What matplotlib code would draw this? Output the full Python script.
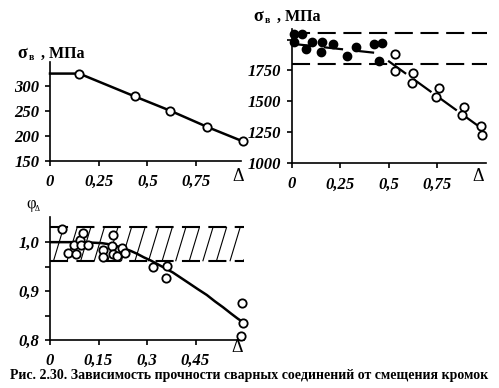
import numpy as np
import matplotlib
matplotlib.use("Agg")
import matplotlib.pyplot as plt

plt.rcParams['font.family'] = ['Liberation Serif', 'DejaVu Serif']
plt.rcParams['lines.scale_dashes'] = False

# panel 1: sigma_v vs offset
d1 = [0.15, 0.434, 0.617, 0.808, 0.99]
s1 = [326, 280, 251, 218, 189]
flat1 = 326

# panel 2: sigma_v vs offset (filled - no failure in seam, open - failure)
d2_full = [0.013, 0.055, 0.013, 0.074, 0.103, 0.155, 0.151, 0.211, 0.287, 0.331, 0.424, 0.464, 0.45]
s2_full = [2044, 2044, 1979, 1922, 1984, 1984, 1898, 1963, 1868, 1938, 1963, 1968, 1825]
d2_open = [0.532, 0.534, 0.624, 0.620, 0.761, 0.745, 0.888, 0.876, 0.976, 0.982]
s2_open = [1882, 1749, 1733, 1652, 1612, 1534, 1458, 1391, 1304, 1227]
fit2_upper_d = [0.005, 0.445]
fit2_upper_s = [1965, 1890]
fit2_lower_d = [0.497, 0.971]
fit2_lower_s = [1828, 1291]
band2 = [1800, 2050]

# panel 3: phi_delta vs offset
d3 = [0.038, 0.057, 0.080, 0.074, 0.093, 0.103, 0.096, 0.119, 0.165, 0.163, 0.194, 0.192,
      0.194, 0.208, 0.222, 0.232, 0.318, 0.358, 0.363, 0.593, 0.598, 0.590]
p3 = [1.027, 0.977, 0.976, 0.994, 1.005, 1.018, 0.994, 0.994, 0.984, 0.969, 1.015, 0.993,
      0.976, 0.972, 0.989, 0.977, 0.950, 0.927, 0.952, 0.876, 0.835, 0.808]
curve3_d = [0, 0.1, 0.16, 0.19, 0.21, 0.23, 0.25, 0.27, 0.29, 0.31, 0.33, 0.355, 0.38,
            0.405, 0.43, 0.457, 0.485, 0.51, 0.535, 0.56, 0.58, 0.6]
curve3_p = [1.0, 1.0, 0.998, 0.995, 0.991, 0.987, 0.982, 0.976, 0.969, 0.963, 0.956, 0.947, 0.938,
            0.927, 0.916, 0.904, 0.892, 0.879, 0.867, 0.854, 0.844, 0.835]
band3 = [0.962, 1.03]

W, H = 499, 388
fig = plt.figure(figsize=(W / 100, H / 100), dpi=100)


def box(left, top, right, bottom):
    return [left / W, 1 - bottom / H, (right - left) / W, (bottom - top) / H]


tickfont = dict(family='Liberation Serif', weight='bold', style='italic', size=12)


def style(ax):
    for s in ['top', 'right']:
        ax.spines[s].set_visible(False)
    for s in ['left', 'bottom']:
        ax.spines[s].set_linewidth(1.2)
    ax.tick_params(direction='out', length=3.5, width=1.2, pad=4)
    ax.tick_params(axis='x', pad=6)
    for lab in ax.get_xticklabels() + ax.get_yticklabels():
        lab.set_fontproperties(matplotlib.font_manager.FontProperties(**tickfont))


def ylabel(x, y, main, sub, rest=''):
    fig.text(x / W, 1 - y / H, main, fontsize=13, fontweight='bold', va='baseline', ha='left')
    fig.text((x + 12) / W, 1 - (y + 2) / H, sub, fontsize=7, fontweight='bold', va='baseline', ha='left')
    if rest:
        fig.text((x + 20) / W, 1 - y / H, rest, fontsize=11.5, fontweight='bold', va='baseline', ha='left')


openmk = dict(marker='o', ms=6, mfc='white', mec='black', mew=1.3, ls='none', clip_on=False, zorder=5)

# ---- panel 1
ax1 = fig.add_axes(box(50, 61.7, 241, 160.7))
ax1.plot([0, d1[0]] + d1, [flat1, flat1] + s1, color='black', lw=1.8, clip_on=False)
ax1.plot(d1, s1, **openmk)
ax1.set_xlim(0, 0.98)
ax1.set_ylim(150, 350)
ax1.set_xticks([0, 0.25, 0.5, 0.75])
ax1.set_xticklabels(['0', '0,25', '0,5', '0,75'])
ax1.set_yticks([150, 200, 250, 300])
style(ax1)
ylabel(17, 58, 'σ', 'в', ' , МПа')
fig.text(238 / W, 1 - 177 / H, 'Δ', fontsize=13, ha='center', va='center')

# ---- panel 2
ax2 = fig.add_axes(box(291.7, 29, 485.7, 163.3))
for b in band2:
    ax2.plot([0, 1.005], [b, b], color='black', lw=1.5, dashes=(13, 5.5), clip_on=False)
ax2.plot(fit2_upper_d, fit2_upper_s, color='black', lw=1.6, dashes=(14, 8.5))
ax2.plot(fit2_lower_d, fit2_lower_s, color='black', lw=1.6, dashes=(16, 6.5))
ax2.plot(d2_full, s2_full, marker='o', ms=6, mfc='black', mec='black', ls='none', clip_on=False, zorder=5)
ax2.plot(d2_open, s2_open, **openmk)
ax2.set_xlim(0, 1.0)
ax2.set_ylim(1000, 2085)
ax2.set_xticks([0, 0.25, 0.5, 0.75])
ax2.set_xticklabels(['0', '0,25', '0,5', '0,75'])
ax2.set_yticks([1000, 1250, 1500, 1750, 2000])
ax2.set_yticklabels(['1000', '1250', '1500', '1750', ''])
style(ax2)
ylabel(253, 21, 'σ', 'в', ' , МПа')
fig.text(478 / W, 1 - 177 / H, 'Δ', fontsize=13, ha='center', va='center')

# ---- panel 3
ax3 = fig.add_axes(box(50, 216.7, 244, 340))
x0, x1 = 0, 0.6
ax3.plot([x0, x1], [band3[0]] * 2, color='black', lw=1.5, dashes=(13, 6))
ax3.plot([x0, x1], [band3[1]] * 2, color='black', lw=1.5, dashes=(13, 6))
# steep hatch lines inside the band
slant = 0.031
for xs in np.arange(-slant, x1, 0.042):
    xa, xb = xs, xs + slant
    ya, yb = band3[0], band3[1]
    if xa < x0:
        ya = ya + (x0 - xa) / slant * (band3[1] - band3[0])
        xa = x0
    if xb > x1:
        yb = yb - (xb - x1) / slant * (band3[1] - band3[0])
        xb = x1
    ax3.plot([xa, xb], [ya, yb], color='black', lw=0.8)
ax3.plot(curve3_d, curve3_p, color='black', lw=1.8)
ax3.plot(d3, p3, **openmk)
ax3.set_xlim(0, 0.6)
ax3.set_ylim(0.8, 1.052)
ax3.set_xticks([0, 0.15, 0.3, 0.45])
ax3.set_xticklabels(['0', '0,15', '0,3', '0,45'])
ax3.set_yticks([0.8, 0.85, 0.9, 0.95, 1.0])
ax3.set_yticklabels(['0,8', '', '0,9', '', '1,0'])
style(ax3)
fig.text(26 / W, 1 - 208 / H, 'φ', fontsize=12, va='baseline', ha='left')
fig.text(35 / W, 1 - 211 / H, 'Δ', fontsize=5.5, va='baseline', ha='left')
fig.text(237 / W, 1 - 347 / H, 'Δ', fontsize=13, ha='center', va='center')

fig.text(0.5, 1 - 376 / H, 'Рис. 2.30. Зависимость прочности сварных соединений от смещения кромок',
         fontsize=10, fontweight='bold', ha='center', va='center')

fig.savefig('out.png', dpi=100)
